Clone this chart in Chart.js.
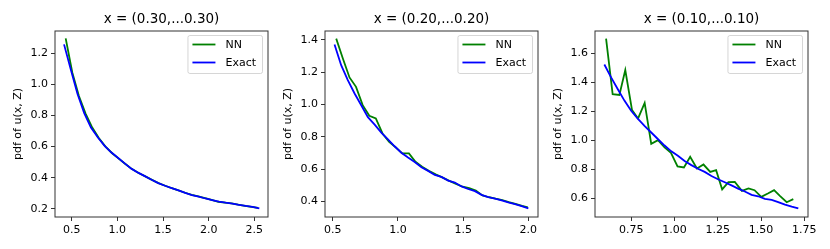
<!DOCTYPE html>
<html lang="en">
<head>
<meta charset="UTF-8">
<title>pdf of u(x, Z)</title>
<script src="https://cdn.jsdelivr.net/npm/chart.js"></script>
<style>
    body { margin: 0; background: #fff; }
    #wrap { position: relative; width: 830px; height: 249px; overflow: hidden; }
    #wrap canvas { position: absolute; top: 0; }
</style>
</head>
<body>
<div id="wrap">
    <canvas id="c1" width="282" height="249" style="left:0px"></canvas>
    <canvas id="c2" width="282" height="249" style="left:270px"></canvas>
    <canvas id="c3" width="282" height="249" style="left:540px"></canvas>
</div>
<script>
// ---- panel 1 : x = (0.30,...0.30)
var p1Title = 'x = (0.30,...0.30)';
var p1NnX = [0.434, 0.507, 0.579, 0.652, 0.725, 0.797, 0.870, 0.943, 1.015, 1.088,
             1.161, 1.233, 1.306, 1.379, 1.451, 1.524, 1.597, 1.669, 1.742, 1.815,
             1.887, 1.960, 2.033, 2.105, 2.178, 2.251, 2.323, 2.396, 2.469, 2.541];
var p1NnY = [1.296, 1.075, 0.925, 0.812, 0.722, 0.655, 0.600, 0.557, 0.522, 0.488,
             0.455, 0.430, 0.408, 0.386, 0.365, 0.348, 0.332, 0.318, 0.303, 0.289,
             0.279, 0.268, 0.257, 0.245, 0.240, 0.234, 0.226, 0.219, 0.212, 0.205];
var p1ExX = [0.416, 0.490, 0.563, 0.637, 0.711, 0.785, 0.858, 0.932, 1.006, 1.080,
             1.153, 1.227, 1.301, 1.375, 1.448, 1.522, 1.596, 1.670, 1.743, 1.817,
             1.891, 1.965, 2.038, 2.112, 2.186, 2.260, 2.333, 2.407, 2.481, 2.555];
var p1ExY = [1.257, 1.095, 0.940, 0.815, 0.722, 0.660, 0.606, 0.563, 0.528, 0.492,
             0.458, 0.432, 0.410, 0.387, 0.365, 0.348, 0.333, 0.318, 0.302, 0.288,
             0.278, 0.266, 0.256, 0.246, 0.239, 0.233, 0.225, 0.218, 0.212, 0.203];
var p1XTicks = [0.5, 1.0, 1.5, 2.0, 2.5];
var p1XLabels = ['0.5', '1.0', '1.5', '2.0', '2.5'];
var p1YTicks = [0.2, 0.4, 0.6, 0.8, 1.0, 1.2];
var p1YLabels = ['0.2', '0.4', '0.6', '0.8', '1.0', '1.2'];

// ---- panel 2 : x = (0.20,...0.20)
var p2Title = 'x = (0.20,...0.20)';
var p2NnX = [0.526, 0.577, 0.628, 0.678, 0.729, 0.780, 0.830, 0.881, 0.932, 0.982,
             1.033, 1.084, 1.134, 1.185, 1.236, 1.293, 1.343, 1.394, 1.445, 1.496,
             1.546, 1.597, 1.648, 1.698, 1.749, 1.800, 1.850, 1.901, 1.952, 1.996];
var p2NnY = [1.407, 1.284, 1.167, 1.109, 0.996, 0.930, 0.914, 0.821, 0.769, 0.735,
             0.698, 0.698, 0.646, 0.615, 0.590, 0.567, 0.548, 0.528, 0.510, 0.492,
             0.484, 0.468, 0.438, 0.427, 0.418, 0.410, 0.397, 0.386, 0.374, 0.365];
var p2ExX = [0.513, 0.564, 0.615, 0.667, 0.718, 0.769, 0.821, 0.872, 0.923, 0.974,
             1.026, 1.077, 1.128, 1.180, 1.231, 1.282, 1.333, 1.385, 1.436, 1.487,
             1.538, 1.590, 1.641, 1.692, 1.744, 1.795, 1.846, 1.897, 1.949, 2.000];
var p2ExY = [1.370, 1.243, 1.150, 1.068, 0.995, 0.922, 0.876, 0.826, 0.784, 0.742,
             0.702, 0.672, 0.645, 0.612, 0.590, 0.565, 0.553, 0.530, 0.518, 0.494,
             0.478, 0.465, 0.442, 0.428, 0.418, 0.408, 0.395, 0.384, 0.372, 0.358];
var p2XTicks = [0.5, 1.0, 1.5, 2.0];
var p2XLabels = ['0.5', '1.0', '1.5', '2.0'];
var p2YTicks = [0.4, 0.6, 0.8, 1.0, 1.2, 1.4];
var p2YLabels = ['0.4', '0.6', '0.8', '1.0', '1.2', '1.4'];

// ---- panel 3 : x = (0.10,...0.10)
var p3Title = 'x = (0.10,...0.10)';
var p3NnX = [0.604, 0.642, 0.681, 0.715, 0.754, 0.789, 0.827, 0.865, 0.904, 0.942,
             0.979, 1.017, 1.054, 1.090, 1.129, 1.167, 1.206, 1.240, 1.275, 1.311,
             1.348, 1.389, 1.427, 1.462, 1.501, 1.539, 1.575, 1.610, 1.648, 1.686];
var p3NnY = [1.703, 1.319, 1.314, 1.485, 1.209, 1.152, 1.259, 0.977, 1.002, 0.952,
             0.915, 0.821, 0.814, 0.887, 0.807, 0.834, 0.783, 0.795, 0.662, 0.712,
             0.714, 0.652, 0.669, 0.657, 0.611, 0.634, 0.657, 0.616, 0.574, 0.595];
var p3ExX = [0.594, 0.633, 0.671, 0.710, 0.749, 0.787, 0.826, 0.865, 0.903, 0.942,
             0.981, 1.019, 1.058, 1.097, 1.135, 1.174, 1.213, 1.251, 1.290, 1.329,
             1.367, 1.406, 1.445, 1.483, 1.522, 1.561, 1.599, 1.638, 1.677, 1.715];
var p3ExY = [1.524, 1.435, 1.355, 1.275, 1.205, 1.150, 1.100, 1.055, 1.010, 0.965,
             0.925, 0.895, 0.858, 0.830, 0.805, 0.783, 0.755, 0.732, 0.712, 0.690,
             0.668, 0.648, 0.625, 0.615, 0.597, 0.590, 0.575, 0.557, 0.543, 0.531];
var p3XTicks = [0.75, 1.00, 1.25, 1.50, 1.75];
var p3XLabels = ['0.75', '1.00', '1.25', '1.50', '1.75'];
var p3YTicks = [0.6, 0.8, 1.0, 1.2, 1.4, 1.6];
var p3YLabels = ['0.6', '0.8', '1.0', '1.2', '1.4', '1.6'];

var seriesNames = ['NN', 'Exact'];
var seriesColors = ['#008000', '#0000ff'];

Chart.defaults.font.family = "'DejaVu Sans', sans-serif";
Chart.defaults.color = '#000';

// frame, title and matplotlib-like legend box inside the axes
var panelDecor = {
    id: 'panelDecor',
    afterDatasetsDraw: function (chart, args, opts) {
        var a = chart.chartArea, ctx = chart.ctx;
        ctx.save();
        ctx.strokeStyle = '#333';
        ctx.lineWidth = 1;
        ctx.strokeRect(a.left, a.top, a.right - a.left, a.bottom - a.top);

        ctx.fillStyle = '#000';
        ctx.font = "13.5px 'DejaVu Sans'";
        ctx.textAlign = 'center';
        ctx.textBaseline = 'middle';
        ctx.fillText(opts.title, (a.left + a.right) / 2, 19.5);

        // legend
        ctx.font = "11px 'DejaVu Sans'";
        var ds = chart.data.datasets;
        var tw = 0;
        ds.forEach(function (d) { tw = Math.max(tw, ctx.measureText(d.label).width); });
        var w = 5 + 23 + 10 + tw + 6, h = 38;
        var x0 = a.right - 6 - w, y0 = a.top + 4;
        ctx.globalAlpha = 0.8;
        ctx.fillStyle = '#fff';
        ctx.strokeStyle = '#cccccc';
        ctx.beginPath();
        ctx.roundRect(x0 + 0.5, y0 + 0.5, w, h, 2);
        ctx.fill();
        ctx.stroke();
        ctx.globalAlpha = 1;
        ctx.textAlign = 'left';
        ds.forEach(function (d, i) {
            var ly = y0 + 9.5 + i * 18;
            ctx.strokeStyle = d.borderColor;
            ctx.lineWidth = 1.8;
            ctx.beginPath();
            ctx.moveTo(x0 + 5, ly);
            ctx.lineTo(x0 + 28, ly);
            ctx.stroke();
            ctx.fillStyle = '#000';
            ctx.fillText(d.label, x0 + 38, ly + 0.5);
        });
        ctx.restore();
    }
};

function toPoints(xs, ys) {
    return xs.map(function (x, i) { return { x: x, y: ys[i] }; });
}

function makePanel(id, title, nnX, nnY, exX, exY, xTicks, xLabels, yTicks, yLabels, xr, yr) {
    var ctx = document.getElementById(id).getContext('2d');
    return new Chart(ctx, {
        type: 'line',
        data: {
            datasets: [
                { label: seriesNames[0], data: toPoints(nnX, nnY), borderColor: seriesColors[0], order: 1 },
                { label: seriesNames[1], data: toPoints(exX, exY), borderColor: seriesColors[1], order: 0 }
            ]
        },
        options: {
            responsive: false,
            animation: false,
            devicePixelRatio: 1,
            layout: { padding: { top: 31, right: 14, bottom: 0, left: 0 } },
            elements: {
                point: { radius: 0 },
                line: { borderWidth: 1.8, tension: 0, fill: false }
            },
            plugins: {
                legend: { display: false },
                tooltip: { enabled: false },
                panelDecor: { title: title }
            },
            scales: {
                x: {
                    type: 'linear',
                    min: xr[0], max: xr[1],
                    afterBuildTicks: function (s) { s.ticks = xTicks.map(function (v) { return { value: v }; }); },
                    afterFit: function (s) { s.height = 32; },
                    ticks: {
                        font: { size: 11 }, padding: 3, maxRotation: 0,
                        callback: function (v) { var i = xTicks.indexOf(v); return i >= 0 ? xLabels[i] : ''; }
                    },
                    grid: { drawOnChartArea: false, drawTicks: true, tickLength: 4, color: '#333' },
                    border: { display: false }
                },
                y: {
                    type: 'linear',
                    min: yr[0], max: yr[1],
                    afterBuildTicks: function (s) { s.ticks = yTicks.map(function (v) { return { value: v }; }); },
                    afterFit: function (s) { s.width = 55; },
                    ticks: {
                        font: { size: 11 }, padding: 3,
                        callback: function (v) { var i = yTicks.indexOf(v); return i >= 0 ? yLabels[i] : ''; }
                    },
                    grid: { drawOnChartArea: false, drawTicks: true, tickLength: 4, color: '#333' },
                    border: { display: false },
                    title: { display: true, text: 'pdf of u(x, Z)', font: { size: 11 }, padding: { top: 12, bottom: 0 } }
                }
            }
        },
        plugins: [panelDecor]
    });
}

makePanel('c1', p1Title, p1NnX, p1NnY, p1ExX, p1ExY, p1XTicks, p1XLabels, p1YTicks, p1YLabels, [0.317, 2.65], [0.147, 1.343]);
makePanel('c2', p2Title, p2NnX, p2NnY, p2ExX, p2ExY, p2XTicks, p2XLabels, p2YTicks, p2YLabels, [0.440, 2.074], [0.305, 1.454]);
makePanel('c3', p3Title, p3NnX, p3NnY, p3ExX, p3ExY, p3XTicks, p3XLabels, p3YTicks, p3YLabels, [0.540, 1.771], [0.472, 1.755]);
</script>
</body>
</html>
